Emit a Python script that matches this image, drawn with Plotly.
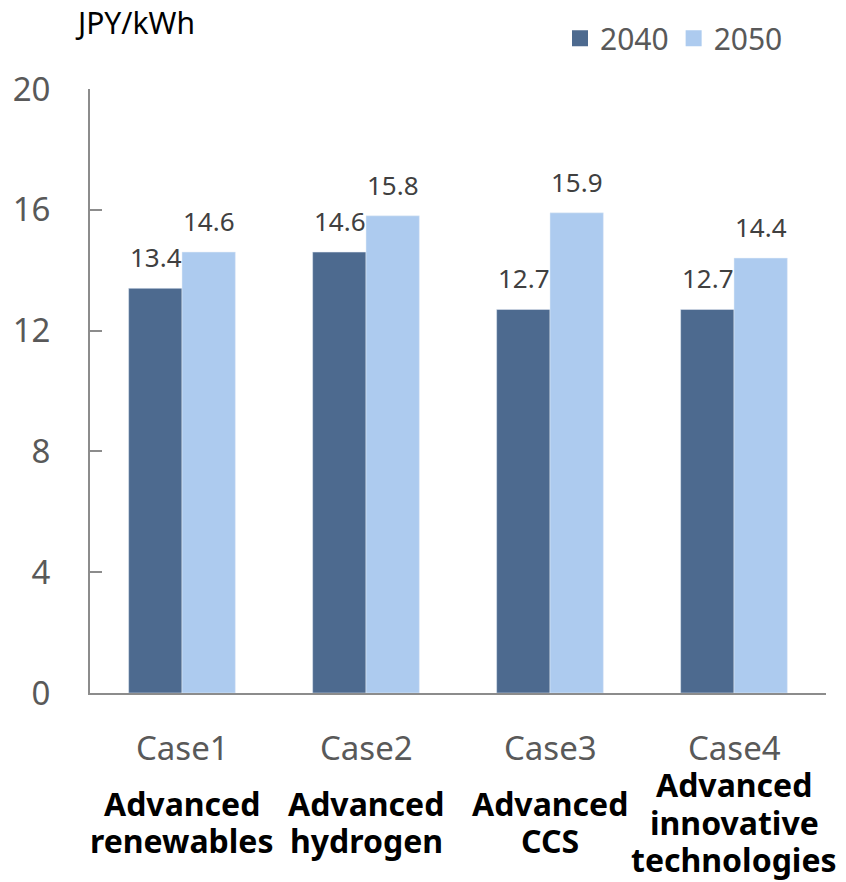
import plotly.graph_objects as go

cases = ["Case1", "Case2", "Case3", "Case4"]
descriptions = [["Advanced", "renewables"], ["Advanced", "hydrogen"], ["Advanced", "CCS"],
                ["Advanced", "innovative", "technologies"]]
v2040 = [13.4, 14.6, 12.7, 12.7]
v2050 = [14.6, 15.8, 15.9, 14.4]
yticks = [0, 4, 8, 12, 16, 20]

FONT = "Noto Sans"
PH = 608.0
C40 = "#4D6A8F"
C50 = "#ADCBEF"

fig = go.Figure()
fig.add_trace(go.Bar(name="2040", x=cases, y=v2040, marker_color=C40, showlegend=False))
fig.add_trace(go.Bar(name="2050", x=cases, y=v2050, marker_color=C50, showlegend=False))
# legend entries with square swatches
for name, col in (("2040", C40), ("2050", C50)):
    fig.add_trace(go.Scatter(name=name, x=[None], y=[None], mode="markers",
                             marker=dict(symbol="square", size=20, color=col)))

annotations = []
for vals, dx in ((v2040, -26.5), (v2050, 26.5)):
    for c, v in zip(cases, vals):
        annotations.append(dict(x=c, xref="x", y=v, yref="y", text=f"{v:.1f}",
                                showarrow=False, xshift=dx, yshift=31, yanchor="middle",
                                font=dict(size=26, color="#404040", family=FONT)))

LINE = 37.5
CENTER = 823
for c, lines in zip(cases, descriptions):
    annotations.append(dict(x=c, xref="x", y=-55/PH, yref="paper", text=c,
                            showarrow=False, yanchor="middle",
                            font=dict(size=33, color="#595959", family=FONT)))
    n = len(lines)
    for i, ln in enumerate(lines):
        ypix = CENTER + (i - (n - 1) / 2) * LINE
        annotations.append(dict(x=c, xref="x", y=-(ypix - 693)/PH, yref="paper",
                                text=f"<b>{ln}</b>", showarrow=False, yanchor="middle",
                                font=dict(size=32, color="#000000", family=FONT)))
annotations.append(dict(x=(73-90)/736, xref="paper", y=(693-18)/PH, yref="paper",
                        yanchor="middle", xanchor="left", text="JPY/kWh", showarrow=False,
                        font=dict(size=30, color="#000000", family=FONT)))

fig.update_layout(
    width=846, height=882,
    margin=dict(l=90, r=20, t=85, b=189),
    plot_bgcolor="white", paper_bgcolor="white",
    barmode="group", bargap=0.42, bargroupgap=0,
    font=dict(family=FONT),
    showlegend=True,
    legend=dict(orientation="h", x=(788-90)/736, xanchor="right", y=(693-34)/PH,
                yanchor="middle", font=dict(size=30, color="#595959", family=FONT),
                traceorder="normal", itemwidth=30),
    annotations=annotations,
)
fig.update_xaxes(type="category", categoryorder="array", categoryarray=cases,
                 range=[-0.5, len(cases) - 0.5], autorange=False,
                 showticklabels=False, showline=True, linecolor="#8C8C8C", linewidth=2,
                 ticks="", showgrid=False)
fig.update_yaxes(range=[0, 20], tickvals=yticks, ticktext=[str(t) for t in yticks],
                 showline=True, linecolor="#8C8C8C", linewidth=2, ticks="inside",
                 ticklen=12, tickcolor="#8C8C8C", tickwidth=2, showgrid=False,
                 zeroline=False, tickfont=dict(size=33, color="#595959", family=FONT),
                 ticklabelstandoff=31)

fig.write_html("out.html")
